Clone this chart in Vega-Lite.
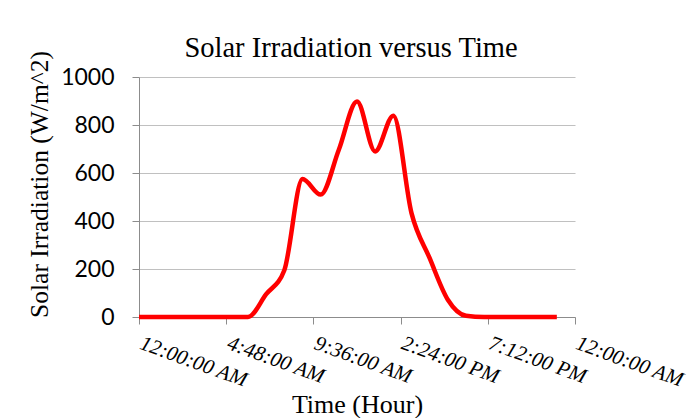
{
  "$schema": "https://vega.github.io/schema/vega-lite/v6.json",
  "autosize": {"type": "none"},
  "width": 436,
  "height": 240,
  "padding": {"left": 139, "top": 77, "right": 112, "bottom": 101},
  "background": "white",
  "title": {
    "text": "Solar Irradiation versus Time",
    "font": "Liberation Serif",
    "fontSize": 28.5,
    "fontWeight": "normal",
    "color": "black",
    "anchor": "middle",
    "baseline": "alphabetic",
    "offset": 12,
    "dy": 47,
    "dx": -6
  },
  "data": {
    "values": [
      {"hour": 0, "irradiation": 0},
      {"hour": 1, "irradiation": 0},
      {"hour": 2, "irradiation": 0},
      {"hour": 3, "irradiation": 0},
      {"hour": 4, "irradiation": 0},
      {"hour": 5, "irradiation": 0},
      {"hour": 6, "irradiation": 0},
      {"hour": 7, "irradiation": 95},
      {"hour": 8, "irradiation": 195},
      {"hour": 9, "irradiation": 575},
      {"hour": 10, "irradiation": 510},
      {"hour": 11, "irradiation": 697},
      {"hour": 12, "irradiation": 898},
      {"hour": 13, "irradiation": 690},
      {"hour": 14, "irradiation": 839},
      {"hour": 15, "irradiation": 433},
      {"hour": 16, "irradiation": 245},
      {"hour": 17, "irradiation": 72},
      {"hour": 18, "irradiation": 5},
      {"hour": 19, "irradiation": 0},
      {"hour": 20, "irradiation": 0},
      {"hour": 21, "irradiation": 0},
      {"hour": 22, "irradiation": 0},
      {"hour": 23, "irradiation": 0}
    ]
  },
  "mark": {"type": "line", "color": "#ff0000", "strokeWidth": 4.5, "interpolate": "monotone"},
  "encoding": {
    "x": {
      "field": "hour",
      "type": "quantitative",
      "scale": {"domain": [0, 24], "nice": false, "zero": false},
      "axis": {
        "values": [0, 4.8, 9.6, 14.4, 19.2, 24],
        "labelExpr": "['12:00:00 AM','4:48:00 AM','9:36:00 AM','2:24:00 PM','7:12:00 PM','12:00:00 AM'][round(datum.value / 4.8)]",
        "labelAngle": 20,
        "labelAlign": "left",
        "labelBaseline": "top",
        "labelFont": "Liberation Serif",
        "labelFontStyle": "italic",
        "labelFontSize": 21,
        "labelColor": "black",
        "labelPadding": 8,
        "labelOffset": 5,
        "labelOverlap": false,
        "labelFlush": false,
        "labelBound": false,
        "grid": false,
        "tickSize": 7,
        "tickColor": "#8c8c8c",
        "domainColor": "#8c8c8c",
        "title": "Time (Hour)",
        "titleFont": "Liberation Serif",
        "titleFontSize": 26,
        "titleFontWeight": "normal",
        "titleColor": "black",
        "titlePadding": 1
      }
    },
    "y": {
      "field": "irradiation",
      "type": "quantitative",
      "scale": {"domain": [0, 1000], "nice": false},
      "axis": {
        "values": [0, 200, 400, 600, 800, 1000],
        "format": "d",
        "labelFont": "Lato",
        "labelFontSize": 23,
        "labelColor": "black",
        "labelPadding": 18,
        "grid": true,
        "gridColor": "#c0c0c0",
        "gridWidth": 1.2,
        "tickSize": 7,
        "tickColor": "#8c8c8c",
        "domainColor": "#8c8c8c",
        "title": "Solar Irradiation (W/m^2)",
        "titleFont": "Liberation Serif",
        "titleFontSize": 25.5,
        "titleFontWeight": "normal",
        "titleColor": "black",
        "titlePadding": 8,
        "titleY": 107
      }
    }
  },
  "config": {"view": {"stroke": null}}
}
